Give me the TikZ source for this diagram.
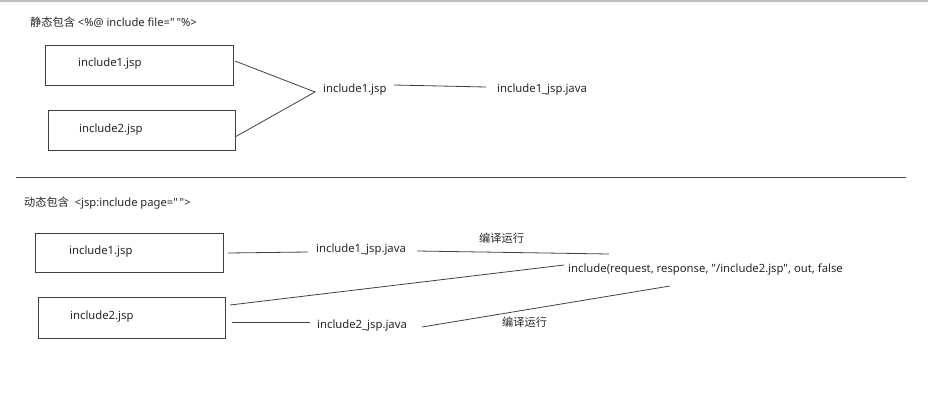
\documentclass[tikz,border=0pt]{standalone}
\usepackage{fontspec}
\setmainfont{Noto Sans}[Ligatures=TeXOff]
\newfontfamily\cjk{Noto Sans CJK SC}
\begin{document}
\begin{tikzpicture}[x=1pt,y=-1pt,
  lbl/.style={anchor=base west,inner sep=0pt,font=\fontsize{11.3}{13}\selectfont,text=black!85},
  clbl/.style={anchor=base west,inner sep=0pt,font=\fontsize{11.2}{13}\selectfont,text=black!85},
  box/.style={draw=black!75,line width=0.9pt},
  conn/.style={draw=black!75,line width=0.8pt}]
\useasboundingbox (0,0) rectangle (928,407);
\draw[black!25,line width=1.5pt] (0,1) -- (928,1);
% ---------- static include ----------
\node[clbl] (t1) at (30,26) {{\cjk 静态包含} <\%@ include file="\,"\%>};
\draw[box] (45,45) rectangle (233,85);
\node[lbl] (a1) at (78,66) {include1.jsp};
\draw[box] (48,110) rectangle (235,150);
\node[lbl] (a2) at (79,132) {include2.jsp};
\node[lbl] (am) at (323,92) {include1.jsp};
\node[lbl] (aj) at (497,92) {include1\_jsp.java};
\coordinate (p1) at (235,61);
\coordinate (p2) at (235,137);
\coordinate (pm) at (315,92);
\coordinate (q1) at (394,85);
\coordinate (q2) at (486,87);
\draw[conn] (p1) -- (pm) -- (p2);
\draw[conn] (q1) -- (q2);
% separator
\coordinate (s1) at (16,177);
\coordinate (s2) at (906,177);
\draw[black!70,line width=1pt] (s1) -- (s2);
% ---------- dynamic include ----------
\node[clbl] (t2) at (24,206) {{\cjk 动态包含}\ \ <jsp:include page="\,">};
\draw[box] (35,233) rectangle (223,272);
\node[lbl] (b1) at (69,254) {include1.jsp};
\draw[box] (38,297) rectangle (225,338);
\node[lbl] (b2) at (70,319) {include2.jsp};
\node[lbl] (j1) at (316,252) {include1\_jsp.java};
\node[lbl] (j2) at (317,328) {include2\_jsp.java};
\node[lbl] (inc) at (568,272) {include(request, response, "/include2.jsp", out, false};
\node[clbl] (c1) at (479,242) {\cjk 编译运行};
\node[clbl] (c2) at (502,326) {\cjk 编译运行};
\coordinate (r1) at (228,253);
\coordinate (r2) at (308,252);
\coordinate (r3) at (417,251);
\coordinate (r4) at (609,254);
\coordinate (r5) at (230,305);
\coordinate (r6) at (564,265);
\coordinate (r7) at (232,322);
\coordinate (r8) at (310,322);
\coordinate (r9) at (422,327);
\coordinate (r10) at (670,286);
\draw[conn] (r1) -- (r2);
\draw[conn] (r3) -- (r4);
\draw[conn] (r5) -- (r6);
\draw[conn] (r7) -- (r8);
\draw[conn] (r9) -- (r10);
\end{tikzpicture}
\end{document}
